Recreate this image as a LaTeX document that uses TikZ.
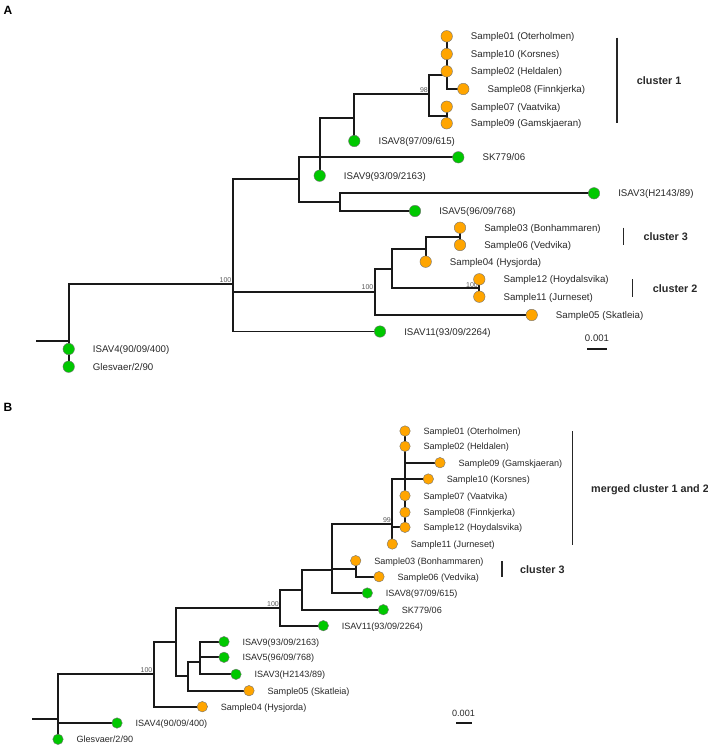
\documentclass[tikz,border=0pt]{standalone}
\usepackage{fontspec}
\setmainfont{Liberation Sans}
\pgfdeclarelayer{edges}
\pgfsetlayers{edges,main}
\definecolor{leafgreen}{RGB}{0,200,0}
\definecolor{leaforange}{RGB}{255,165,0}
\definecolor{txt}{RGB}{40,40,40}
\begin{document}
\begin{tikzpicture}[x=1pt,y=-1pt,
  edge/.style={line width=1.8pt, black!90, line cap=rect},
  gA/.style={circle, fill=leafgreen, draw=black!55, line width=0.4pt, minimum size=11.5pt, inner sep=0pt},
  oA/.style={gA, fill=leaforange},
  gB/.style={circle, fill=leafgreen, draw=black!55, line width=0.4pt, minimum size=10.5pt, inner sep=0pt},
  oB/.style={gB, fill=leaforange},
  labA/.style={font=\fontsize{9.7}{11}\selectfont, text=txt, inner sep=0pt, text height=7pt, text depth=0pt, xshift=18.1pt},
  labB/.style={font=\fontsize{9.1}{11}\selectfont, text=txt, inner sep=0pt, text height=6.6pt, text depth=0pt, xshift=12.9pt},
  boot/.style={font=\fontsize{7}{8}\selectfont, text=black!65, inner sep=0pt, anchor=south east},
  clbar/.style={line width=1.6pt, black!85},
  cltext/.style={font=\bfseries\fontsize{10.8}{12}\selectfont, text=txt, inner sep=0pt, anchor=west, text height=7.6pt, text depth=0pt},
  scalebar/.style={line width=2.8pt, black!90},
  panel/.style={font=\bfseries\fontsize{12}{14}\selectfont, inner sep=0pt}
]
\useasboundingbox (0,0) rectangle (708,747);

% ================= Panel A =================
\node[panel] (pA) at (8,10) {A};

\coordinate (stubA) at (37,341);
\coordinate (rA) at (68.7,341);
\coordinate (nA1) at (233,284);
\coordinate (nA2) at (299,179.3);
\coordinate (nA3) at (319.7,157.3);
\coordinate (nA4) at (340,201.7);
\coordinate (nA5) at (354.3,117.7);
\coordinate (nA6) at (375,291.7);
\coordinate (nA7) at (429.3,94.3);
\coordinate (nA8) at (446.7,74.7);
\coordinate (nA9) at (446.7,115.7);
\coordinate (nA10) at (391.7,269);
\coordinate (nA11) at (425.7,249.3);
\coordinate (nA12) at (479.3,288.3);
\coordinate (nA13) at (460,236.7);

\node[boot] (bA1) at (231.5,282.5) {100};
\node[boot] (bA2) at (373.5,290.2) {100};
\node[boot] (bA3) at (428,92.8) {98};
\node[boot] (bA4) at (478,287.5) {100};

\node[oA, label={[labA]0:Sample01 (Oterholmen)}] (s01A) at (446.7,36.3) {};
\node[oA, label={[labA]0:Sample10 (Korsnes)}] (s10A) at (446.7,54) {};
\node[oA, label={[labA]0:Sample02 (Heldalen)}] (s02A) at (446.7,71.3) {};
\node[oA, label={[labA]0:Sample08 (Finnkjerka)}] (s08A) at (463.3,89) {};
\node[oA, label={[labA]0:Sample07 (Vaatvika)}] (s07A) at (446.7,106.7) {};
\node[oA, label={[labA]0:Sample09 (Gamskjaeran)}] (s09A) at (446.7,123.3) {};
\node[gA, label={[labA]0:ISAV8(97/09/615)}] (isav8A) at (354.3,141) {};
\node[gA, label={[labA]0:SK779/06}] (sk779A) at (458.3,157.3) {};
\node[gA, label={[labA]0:ISAV9(93/09/2163)}] (isav9A) at (319.7,175.7) {};
\node[gA, label={[labA]0:ISAV3(H2143/89)}] (isav3A) at (594,193.3) {};
\node[gA, label={[labA]0:ISAV5(96/09/768)}] (isav5A) at (415,211) {};
\node[oA, label={[labA]0:Sample03 (Bonhammaren)}] (s03A) at (460,227.7) {};
\node[oA, label={[labA]0:Sample06 (Vedvika)}] (s06A) at (460,245) {};
\node[oA, label={[labA]0:Sample04 (Hysjorda)}] (s04A) at (425.7,261.7) {};
\node[oA, label={[labA]0:Sample12 (Hoydalsvika)}] (s12A) at (479.3,279.3) {};
\node[oA, label={[labA]0:Sample11 (Jurneset)}] (s11A) at (479.3,296.7) {};
\node[oA, label={[labA]0:Sample05 (Skatleia)}] (s05A) at (531.7,315) {};
\node[gA, label={[labA]0:ISAV11(93/09/2264)}] (isav11A) at (380,331.5) {};
\node[gA, label={[labA]0:ISAV4(90/09/400)}] (isav4A) at (68.7,349) {};
\node[gA, label={[labA]0:Glesvaer/2/90}] (glesA) at (68.7,366.7) {};

\begin{pgfonlayer}{edges}
\draw[edge] (stubA) -- (rA);
\draw[edge] (rA) |- (nA1);
\draw[edge] (rA) -- (glesA.center);
\draw[edge] (nA1) |- (nA2);
\draw[edge] (nA1) |- (nA6);
\draw[edge] (nA1) |- (isav11A.center);
\draw[edge] (nA2) |- (nA3);
\draw[edge] (nA2) |- (nA4);
\draw[edge] (nA3) -- (sk779A.center);
\draw[edge] (nA3) |- (nA5);
\draw[edge] (nA3) -- (isav9A.center);
\draw[edge] (nA5) |- (nA7);
\draw[edge] (nA5) -- (isav8A.center);
\draw[edge] (nA7) |- (nA8);
\draw[edge] (nA7) |- (nA9);
\draw[edge] (s01A.center) -- (s02A.center);
\draw[edge] (s02A.center) |- (s08A.center);
\draw[edge] (s07A.center) -- (s09A.center);
\draw[edge] (nA4) |- (isav3A.center);
\draw[edge] (nA4) |- (isav5A.center);
\draw[edge] (nA6) |- (nA10);
\draw[edge] (nA6) |- (s05A.center);
\draw[edge] (nA10) |- (nA11);
\draw[edge] (nA10) |- (nA12);
\draw[edge] (nA11) |- (nA13);
\draw[edge] (nA11) -- (s04A.center);
\draw[edge] (s03A.center) -- (s06A.center);
\draw[edge] (s12A.center) -- (s11A.center);
\end{pgfonlayer}

\coordinate (c1a) at (616.7,37.7); \coordinate (c1b) at (616.7,123.3);
\draw[clbar] (c1a) -- (c1b);
\node[cltext] (c1t) at (636.7,80.7) {cluster 1};
\coordinate (c3a) at (623.3,227.7); \coordinate (c3b) at (623.3,245);
\draw[clbar] (c3a) -- (c3b);
\node[cltext] (c3t) at (643.3,236.7) {cluster 3};
\coordinate (c2a) at (632.3,279.3); \coordinate (c2b) at (632.3,297.3);
\draw[clbar] (c2a) -- (c2b);
\node[cltext] (c2t) at (652.7,289) {cluster 2};

\node[font=\fontsize{9.6}{11}\selectfont, text=txt, inner sep=0pt] (scA) at (597,338) {0.001};
\coordinate (sbA1) at (587.3,349); \coordinate (sbA2) at (607.3,349);
\draw[scalebar] (sbA1) -- (sbA2);

% ================= Panel B =================
\node[panel] (pB) at (8,407) {B};

\coordinate (stubB) at (33.3,719.3);
\coordinate (rB) at (58,719.3);
\coordinate (nB1) at (153.7,674.3);
\coordinate (nB2) at (176,641.7);
\coordinate (nB3) at (280,607.7);
\coordinate (nB4) at (187.7,675.7);
\coordinate (nB5) at (200,661.7);
\coordinate (nB6) at (302.3,590);
\coordinate (nB7) at (331.7,570);
\coordinate (nB8) at (392.3,524.3);
\coordinate (nB9) at (355.7,569);

\node[boot] (bB1) at (152.5,673) {100};
\node[boot] (bB2) at (279,606.5) {100};
\node[boot] (bB3) at (391,523) {99};

\node[oB, label={[labB]0:Sample01 (Oterholmen)}] (s01B) at (405,431) {};
\node[oB, label={[labB]0:Sample02 (Heldalen)}] (s02B) at (405,446.3) {};
\node[oB, label={[labB]0:Sample09 (Gamskjaeran)}] (s09B) at (440,462.7) {};
\node[oB, label={[labB]0:Sample10 (Korsnes)}] (s10B) at (428.3,479) {};
\node[oB, label={[labB]0:Sample07 (Vaatvika)}] (s07B) at (405,495.7) {};
\node[oB, label={[labB]0:Sample08 (Finnkjerka)}] (s08B) at (405,512.3) {};
\node[oB, label={[labB]0:Sample12 (Hoydalsvika)}] (s12B) at (405,527.3) {};
\node[oB, label={[labB]0:Sample11 (Jurneset)}] (s11B) at (392.3,544) {};
\node[oB, label={[labB]0:Sample03 (Bonhammaren)}] (s03B) at (355.7,560.7) {};
\node[oB, label={[labB]0:Sample06 (Vedvika)}] (s06B) at (379,576.7) {};
\node[gB, label={[labB]0:ISAV8(97/09/615)}] (isav8B) at (367.3,593) {};
\node[gB, label={[labB]0:SK779/06}] (sk779B) at (383.3,609.7) {};
\node[gB, label={[labB]0:ISAV11(93/09/2264)}] (isav11B) at (323.3,625.7) {};
\node[gB, label={[labB]0:ISAV9(93/09/2163)}] (isav9B) at (224,641.7) {};
\node[gB, label={[labB]0:ISAV5(96/09/768)}] (isav5B) at (224,657.3) {};
\node[gB, label={[labB]0:ISAV3(H2143/89)}] (isav3B) at (236,674.3) {};
\node[oB, label={[labB]0:Sample05 (Skatleia)}] (s05B) at (249,690.7) {};
\node[oB, label={[labB]0:Sample04 (Hysjorda)}] (s04B) at (202.3,706.7) {};
\node[gB, label={[labB]0:ISAV4(90/09/400)}] (isav4B) at (117,723) {};
\node[gB, label={[labB]0:Glesvaer/2/90}] (glesB) at (58,739.3) {};

\begin{pgfonlayer}{edges}
\draw[edge] (stubB) -- (rB);
\draw[edge] (rB) |- (nB1);
\draw[edge] (rB) |- (isav4B.center);
\draw[edge] (rB) -- (glesB.center);
\draw[edge] (nB1) |- (nB2);
\draw[edge] (nB1) |- (s04B.center);
\draw[edge] (nB2) |- (nB3);
\draw[edge] (nB2) |- (nB4);
\draw[edge] (nB4) |- (nB5);
\draw[edge] (nB4) |- (s05B.center);
\draw[edge] (nB5) |- (isav9B.center);
\draw[edge] (nB5) |- (isav5B.center);
\draw[edge] (nB5) |- (isav3B.center);
\draw[edge] (nB3) |- (nB6);
\draw[edge] (nB3) |- (isav11B.center);
\draw[edge] (nB6) |- (nB7);
\draw[edge] (nB6) |- (sk779B.center);
\draw[edge] (nB7) |- (nB8);
\draw[edge] (nB7) |- (nB9);
\draw[edge] (nB7) |- (isav8B.center);
\draw[edge] (s03B.center) |- (s06B.center);
\draw[edge] (nB8) |- (s10B.center);
\draw[edge] (nB8) -- (s11B.center);
\draw[edge] (nB8) |- (s12B.center);
\draw[edge] (s01B.center) -- (s12B.center);
\draw[edge] (s02B.center) |- (s09B.center);
\end{pgfonlayer}

\coordinate (m1a) at (572.3,431); \coordinate (m1b) at (572.3,545);
\draw[clbar] (m1a) -- (m1b);
\node[cltext] (m1t) at (591,488.3) {merged cluster 1 and 2};
\coordinate (c3Ba) at (501.7,561); \coordinate (c3Bb) at (501.7,576.7);
\draw[clbar] (c3Ba) -- (c3Bb);
\node[cltext] (c3Bt) at (520,569.3) {cluster 3};

\node[font=\fontsize{9.1}{11}\selectfont, text=txt, inner sep=0pt] (scB) at (463.5,713.5) {0.001};
\coordinate (sbB1) at (456,723); \coordinate (sbB2) at (472.3,723);
\draw[scalebar] (sbB1) -- (sbB2);
\end{tikzpicture}
\end{document}
